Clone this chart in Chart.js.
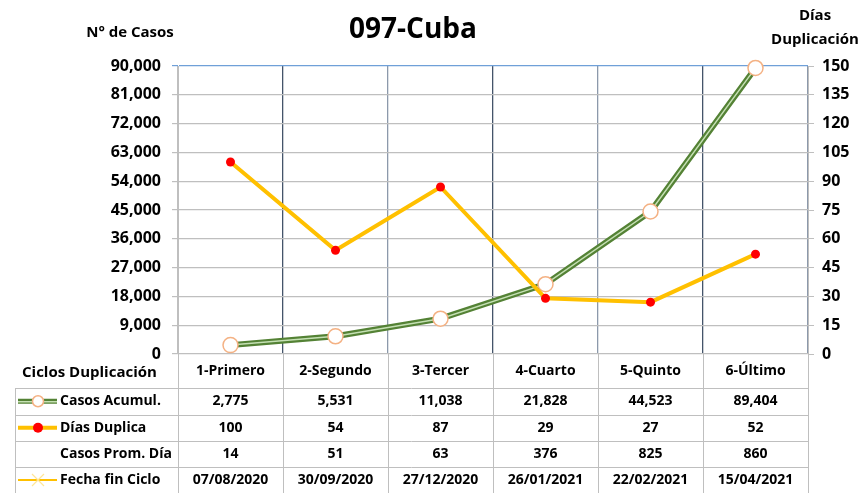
<!DOCTYPE html>
<html lang="es">
<head>
<meta charset="utf-8">
<title>097-Cuba</title>
<script src="https://cdn.jsdelivr.net/npm/chart.js@4.4.0/dist/chart.umd.min.js"></script>
<style>
  body { margin: 0; background: #fff; }
</style>
</head>
<body>
<canvas id="chart" width="860" height="493"></canvas>
<script>
// data
var ciclos = ["1-Primero", "2-Segundo", "3-Tercer", "4-Cuarto", "5-Quinto", "6-Último"];
var casosAcumul = [2775, 5531, 11038, 21828, 44523, 89404];
var diasDuplica = [100, 54, 87, 29, 27, 52];
var casosPromDia = [14, 51, 63, 376, 825, 860];
var fechaFinCiclo = ["07/08/2020", "30/09/2020", "27/12/2020", "26/01/2021", "22/02/2021", "15/04/2021"];

var casosMax = 90000, casosStep = 9000;
var diasMax = 150, diasStep = 15;

var FONT = "'Open Sans', 'Noto Sans', sans-serif";

function fmt(n) { return Number(n).toLocaleString('en-US'); }

// draws title, axis titles and the data table under the plot
var tablePlugin = {
  id: 'tabla',
  afterDraw: function(chart) {
    var ctx = chart.ctx;
    var x = chart.scales.x;
    var area = chart.chartArea;
    var colW = (area.right - area.left) / ciclos.length;
    var rows = [388, 414.5, 441, 467, 493];

    ctx.save();
    ctx.fillStyle = '#000';
    ctx.textBaseline = 'middle';

    ctx.textAlign = 'center';
    ctx.font = 'bold 28px ' + FONT;
    ctx.fillText('097-Cuba', 413, 30);

    ctx.font = 'bold 15px ' + FONT;
    ctx.fillText('N° de Casos', 130, 33);
    ctx.fillText('Días', 815, 16);
    ctx.fillText('Duplicación', 815, 40);

    // table lines
    ctx.strokeStyle = '#bfbfbf';
    ctx.lineWidth = 1;
    ctx.beginPath();
    for (var r = 0; r < rows.length - 1; r++) {
      ctx.moveTo(15, Math.round(rows[r]) + 0.5);
      ctx.lineTo(area.right, Math.round(rows[r]) + 0.5);
    }
    ctx.moveTo(15.5, rows[0]);
    ctx.lineTo(15.5, 493);
    for (var i = 0; i <= ciclos.length; i++) {
      var lx = Math.round(area.left + i * colW) + 0.5;
      ctx.moveTo(lx, area.bottom);
      ctx.lineTo(lx, 493);
    }
    ctx.stroke();

    // header row
    ctx.font = 'bold 14px ' + FONT;
    ciclos.forEach(function(c, i) {
      ctx.fillText(c, x.getPixelForValue(i), 371);
    });
    ctx.textAlign = 'left';
    ctx.font = 'bold 15px ' + FONT;
    ctx.fillText('Ciclos Duplicación', 22, 373);

    var labels = ['Casos Acumul.', 'Días Duplica', 'Casos Prom. Día', 'Fecha fin Ciclo'];
    var values = [casosAcumul.map(fmt), diasDuplica.map(fmt), casosPromDia.map(fmt), fechaFinCiclo];

    for (var k = 0; k < 4; k++) {
      var cy = (rows[k] + rows[k + 1]) / 2;
      ctx.textAlign = 'left';
      ctx.font = 'bold 14px ' + FONT;
      ctx.fillText(labels[k], 60, cy);
      ctx.textAlign = 'center';
      values[k].forEach(function(v, i) {
        ctx.fillText(v, x.getPixelForValue(i), cy);
      });
    }

    // legend keys
    var y1 = (rows[0] + rows[1]) / 2;
    ctx.lineCap = 'butt';
    ctx.strokeStyle = '#548235';
    ctx.lineWidth = 5;
    ctx.beginPath(); ctx.moveTo(18, y1); ctx.lineTo(57, y1); ctx.stroke();
    ctx.strokeStyle = '#c5e0b4';
    ctx.lineWidth = 1.5;
    ctx.beginPath(); ctx.moveTo(18, y1 + 0.5); ctx.lineTo(57, y1 + 0.5); ctx.stroke();
    ctx.fillStyle = '#fff';
    ctx.strokeStyle = '#f4b183';
    ctx.lineWidth = 1.5;
    ctx.beginPath(); ctx.arc(38, y1, 5.5, 0, Math.PI * 2); ctx.fill(); ctx.stroke();

    var y2 = (rows[1] + rows[2]) / 2;
    ctx.strokeStyle = '#ffc000';
    ctx.lineWidth = 4;
    ctx.beginPath(); ctx.moveTo(18, y2); ctx.lineTo(57, y2); ctx.stroke();
    ctx.fillStyle = '#ff0000';
    ctx.beginPath(); ctx.arc(38, y2, 5, 0, Math.PI * 2); ctx.fill();

    var y4 = (rows[3] + rows[4]) / 2;
    ctx.strokeStyle = '#ffc000';
    ctx.lineWidth = 2;
    ctx.beginPath(); ctx.moveTo(18, y4); ctx.lineTo(57, y4); ctx.stroke();
    ctx.strokeStyle = '#ffe699';
    ctx.lineWidth = 1.2;
    ctx.beginPath();
    ctx.moveTo(32, y4 - 6); ctx.lineTo(44, y4 + 6);
    ctx.moveTo(44, y4 - 6); ctx.lineTo(32, y4 + 6);
    ctx.stroke();

    ctx.restore();
  }
};

new Chart(document.getElementById('chart'), {
  type: 'line',
  data: {
    labels: ciclos,
    datasets: [
      {
        label: 'Casos Acumul.',
        data: casosAcumul,
        yAxisID: 'y',
        borderColor: '#548235',
        borderWidth: 6,
        pointRadius: 0,
        tension: 0,
        clip: false,
        order: 3
      },
      {
        label: 'Casos Acumul. (interior)',
        data: casosAcumul,
        yAxisID: 'y',
        borderColor: '#c5e0b4',
        borderWidth: 1.5,
        pointRadius: 7.5,
        pointBackgroundColor: '#ffffff',
        pointBorderColor: '#f4b183',
        pointBorderWidth: 1.5,
        tension: 0,
        clip: false,
        order: 2
      },
      {
        label: 'Días Duplica',
        data: diasDuplica,
        yAxisID: 'y1',
        borderColor: '#ffc000',
        borderWidth: 4,
        pointRadius: 4.5,
        pointBackgroundColor: '#ff0000',
        pointBorderColor: '#ff0000',
        pointBorderWidth: 0,
        tension: 0,
        clip: false,
        order: 1
      }
    ]
  },
  options: {
    responsive: false,
    animation: false,
    layout: { padding: { top: 66, bottom: 139, left: 0, right: 0 } },
    plugins: {
      legend: { display: false },
      title: { display: false },
      tooltip: { enabled: false }
    },
    scales: {
      x: {
        offset: true,
        ticks: { display: false },
        border: { display: false },
        grid: {
          offset: true,
          drawTicks: false,
          lineWidth: 1.3,
          color: function(c) { return c.index % 2 === 1 ? '#44546a' : (c.index === 0 || c.index === 6 ? '#bfbfbf' : '#8c99ab'); }
        },
        afterFit: function(s) { s.height = 0; }
      },
      y: {
        position: 'left',
        min: 0,
        max: casosMax,
        ticks: {
          stepSize: casosStep,
          padding: 11,
          color: '#000',
          font: { family: FONT, size: 16, weight: 'bold' },
          callback: function(v) { return fmt(v); }
        },
        border: { color: '#bfbfbf', width: 1 },
        grid: {
          tickLength: 6,
          color: function(c) { return c.tick && c.tick.value === casosMax ? '#6fa0d8' : '#bfbfbf'; },
          lineWidth: 1.2
        },
        afterFit: function(s) { s.width = 178; }
      },
      y1: {
        position: 'right',
        min: 0,
        max: diasMax,
        ticks: {
          stepSize: diasStep,
          padding: 8,
          color: '#000',
          font: { family: FONT, size: 16, weight: 'bold' }
        },
        border: { color: '#bfbfbf', width: 1 },
        grid: { drawOnChartArea: false, tickLength: 6, color: '#bfbfbf' },
        afterFit: function(s) { s.width = 52; }
      }
    }
  },
  plugins: [tablePlugin]
});
</script>
</body>
</html>
